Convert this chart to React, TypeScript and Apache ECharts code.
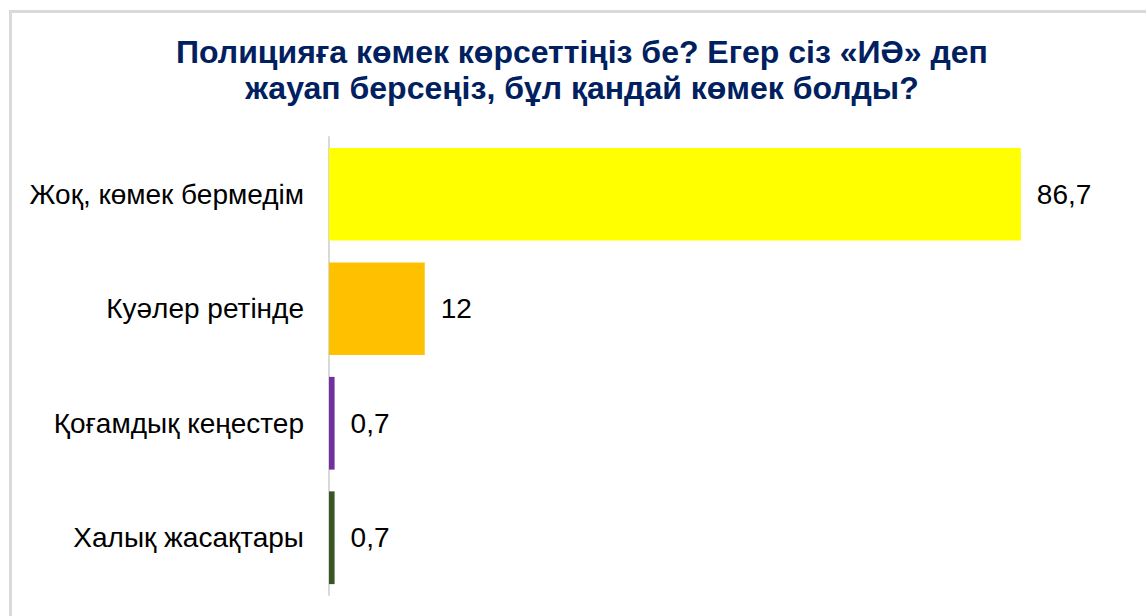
import React, { useEffect, useRef } from "react";
import * as echarts from "echarts";

const titleLines = [
  "Полицияға көмек көрсеттіңіз бе? Егер сіз «ИӘ» деп",
  "жауап берсеңіз, бұл қандай көмек болды?",
];
const categories = [
  "Жоқ, көмек бермедім",
  "Куәлер ретінде",
  "Қоғамдық кеңестер",
  "Халық жасақтары",
];
const values = [86.7, 12, 0.7, 0.7];
const colors = ["#FFFF00", "#FFC000", "#7030A0", "#375623"];

export default function App() {
  const ref = useRef<HTMLDivElement>(null);
  useEffect(() => {
    if (!ref.current) return;
    const chart = echarts.init(ref.current, undefined, { renderer: "svg" });
    const font = "'Liberation Sans', Arial, sans-serif";
    chart.setOption({
      animation: false,
      backgroundColor: "#ffffff",
      textStyle: { fontFamily: font },
      graphic: [
        {
          type: "rect",
          shape: { x: 10.5, y: 11.5, width: 1400, height: 900 },
          style: { fill: "none", stroke: "#d9d9d9", lineWidth: 3 },
          silent: true,
        },
        ...titleLines.map((t, i) => ({
          type: "text",
          x: 582,
          y: 52 + i * 36,
          style: {
            text: t,
            fill: "#002060",
            font: `bold 32px ${font}`,
            textAlign: "center",
            textVerticalAlign: "middle",
          },
        })),
      ],
      grid: { left: 329, top: 137, width: 798, height: 458, containLabel: false },
      xAxis: {
        type: "value",
        min: 0,
        max: 100,
        show: false,
        splitLine: { show: false },
      },
      yAxis: {
        type: "category",
        data: categories,
        inverse: true,
        axisLine: { show: true, lineStyle: { color: "#d9d9d9", width: 2 } },
        axisTick: { show: false },
        axisLabel: { fontSize: 28, color: "#000000", margin: 25, fontFamily: font },
      },
      series: [
        {
          type: "bar",
          data: values.map((v, i) => ({ value: v, itemStyle: { color: colors[i] } })),
          barCategoryGap: "19%",
          label: {
            show: true,
            position: "right",
            distance: 16,
            fontSize: 28,
            color: "#000000",
            fontFamily: font,
            formatter: (p: any) => String(p.value).replace(".", ","),
          },
        },
      ],
    });
    return () => chart.dispose();
  }, []);
  return (
    <div
      ref={ref}
      style={{ position: "fixed", left: 0, top: 0, width: 1146, height: 616 }}
    />
  );
}
